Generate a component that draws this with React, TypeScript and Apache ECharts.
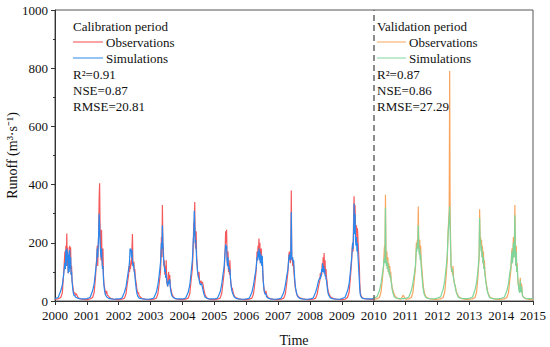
import React, { useEffect, useRef } from "react";
import * as echarts from "echarts";

// Sampling positions inside each year (fraction of the year)
const sampleFractions = [0.0, 0.1, 0.18, 0.23, 0.27, 0.31, 0.325, 0.34, 0.355, 0.37, 0.385, 0.4, 0.415, 0.43, 0.445, 0.46, 0.475, 0.49, 0.505, 0.52, 0.535, 0.55, 0.565, 0.58, 0.6, 0.62, 0.64, 0.67, 0.71, 0.77, 0.85, 0.93];

const calYears = [2000, 2001, 2002, 2003, 2004, 2005, 2006, 2007, 2008, 2009];
const valYears = [2010, 2011, 2012, 2013, 2014];

// Calibration period, observed runoff (m3/s), one row per year
const calObs = [
  [6, 7, 12, 28, 90, 170, 110, 190, 140, 232, 120, 185, 95, 150, 110, 190, 120, 185, 90, 120, 70, 60, 45, 35, 25, 30, 20, 25, 14, 8, 6, 5],
  [5, 7, 12, 30, 80, 150, 190, 120, 180, 230, 350, 405, 250, 200, 140, 245, 150, 120, 180, 90, 60, 50, 40, 30, 25, 35, 20, 18, 12, 8, 6, 5],
  [5, 6, 10, 25, 60, 90, 120, 100, 130, 110, 140, 125, 180, 230, 130, 120, 135, 100, 110, 80, 70, 60, 45, 35, 25, 30, 18, 15, 10, 7, 6, 5],
  [5, 6, 10, 25, 60, 100, 140, 220, 150, 330, 200, 180, 120, 140, 90, 120, 80, 140, 70, 60, 50, 80, 100, 60, 90, 50, 40, 25, 15, 8, 6, 5],
  [5, 6, 10, 25, 70, 110, 150, 200, 270, 250, 340, 200, 180, 240, 150, 130, 100, 90, 80, 100, 70, 60, 60, 70, 60, 65, 60, 40, 20, 10, 6, 5],
  [5, 6, 10, 25, 60, 100, 140, 180, 240, 200, 245, 150, 120, 170, 100, 130, 90, 140, 80, 60, 50, 40, 45, 35, 25, 20, 15, 12, 10, 7, 6, 5],
  [5, 6, 10, 25, 60, 100, 130, 170, 140, 190, 160, 215, 150, 200, 130, 170, 180, 120, 150, 100, 70, 50, 35, 30, 25, 35, 20, 15, 10, 7, 6, 5],
  [5, 6, 10, 25, 60, 100, 130, 160, 170, 150, 130, 170, 380, 140, 150, 120, 140, 110, 90, 70, 50, 40, 35, 25, 20, 18, 15, 12, 10, 7, 6, 5],
  [5, 6, 10, 25, 50, 70, 95, 80, 100, 90, 130, 100, 150, 120, 165, 100, 140, 90, 110, 80, 70, 50, 40, 30, 25, 20, 15, 12, 10, 7, 6, 5],
  [5, 6, 12, 30, 80, 140, 180, 200, 170, 280, 360, 250, 330, 260, 240, 260, 200, 250, 220, 180, 150, 120, 60, 30, 20, 15, 12, 10, 8, 7, 6, 5],
];

// Calibration period, simulated runoff
const calSim = [
  [8, 12, 35, 55, 90, 130, 110, 175, 120, 180, 140, 170, 95, 160, 100, 175, 110, 150, 90, 100, 70, 50, 35, 25, 18, 20, 14, 12, 10, 8, 7, 7],
  [8, 12, 35, 60, 100, 140, 180, 150, 190, 230, 300, 260, 200, 170, 150, 180, 140, 110, 120, 80, 55, 40, 30, 22, 18, 15, 12, 10, 8, 7, 6, 7],
  [7, 10, 30, 50, 80, 110, 120, 140, 180, 175, 180, 150, 175, 140, 120, 130, 110, 100, 90, 70, 55, 40, 30, 22, 16, 13, 10, 9, 8, 7, 6, 6],
  [7, 10, 30, 55, 90, 130, 170, 200, 180, 260, 200, 160, 130, 120, 100, 110, 80, 90, 70, 60, 50, 60, 70, 60, 75, 45, 30, 18, 12, 9, 7, 7],
  [7, 10, 30, 55, 95, 140, 170, 210, 230, 310, 260, 200, 210, 180, 140, 120, 100, 90, 80, 75, 65, 60, 55, 55, 60, 50, 40, 25, 14, 9, 7, 7],
  [7, 10, 30, 55, 90, 120, 150, 170, 195, 180, 190, 140, 120, 150, 110, 120, 100, 110, 80, 60, 45, 35, 30, 25, 20, 15, 12, 10, 8, 7, 6, 6],
  [7, 10, 30, 55, 85, 110, 130, 150, 140, 170, 150, 180, 140, 170, 130, 160, 150, 120, 155, 100, 70, 50, 35, 28, 22, 25, 15, 11, 9, 7, 6, 6],
  [7, 10, 30, 55, 85, 110, 130, 150, 160, 150, 140, 170, 305, 150, 140, 150, 130, 140, 110, 80, 60, 45, 35, 28, 20, 15, 12, 10, 8, 7, 6, 6],
  [7, 10, 30, 50, 70, 80, 75, 90, 85, 110, 100, 130, 100, 120, 95, 110, 85, 90, 75, 70, 55, 40, 30, 22, 18, 14, 11, 9, 8, 7, 6, 6],
  [8, 12, 35, 60, 100, 150, 170, 200, 180, 240, 335, 230, 300, 210, 190, 220, 170, 200, 160, 130, 100, 70, 40, 22, 16, 12, 10, 9, 8, 7, 7, 7],
];

// Validation period, observed runoff
const valObs = [
  [6, 7, 12, 30, 70, 120, 160, 190, 150, 365, 180, 140, 170, 110, 150, 100, 130, 90, 120, 80, 100, 70, 60, 45, 40, 30, 25, 18, 12, 8, 6, 20],
  [6, 7, 12, 28, 70, 110, 150, 200, 180, 210, 190, 325, 200, 170, 210, 150, 190, 140, 120, 100, 80, 60, 45, 35, 25, 20, 15, 12, 10, 7, 6, 5],
  [6, 7, 12, 30, 80, 140, 200, 250, 280, 310, 790, 300, 200, 120, 100, 110, 90, 120, 80, 70, 60, 55, 50, 40, 30, 25, 20, 15, 12, 8, 6, 5],
  [6, 7, 12, 30, 80, 150, 315, 200, 220, 180, 210, 150, 190, 130, 170, 110, 140, 100, 90, 70, 60, 50, 40, 30, 25, 20, 15, 12, 10, 7, 6, 5],
  [6, 7, 12, 28, 70, 110, 150, 180, 130, 170, 220, 150, 180, 330, 200, 120, 190, 100, 130, 80, 60, 50, 40, 30, 80, 35, 60, 20, 12, 8, 6, 5],
];

// Validation period, simulated runoff
const valSim = [
  [10, 14, 35, 60, 90, 120, 140, 150, 130, 320, 150, 120, 140, 110, 130, 100, 115, 90, 100, 80, 85, 65, 55, 40, 30, 22, 16, 12, 10, 9, 8, 8],
  [9, 13, 35, 60, 90, 120, 150, 180, 170, 200, 180, 260, 190, 160, 180, 140, 160, 120, 100, 80, 60, 45, 35, 25, 20, 16, 12, 10, 9, 8, 7, 8],
  [10, 14, 40, 70, 110, 160, 200, 240, 260, 290, 325, 250, 180, 120, 110, 100, 110, 90, 80, 70, 60, 55, 45, 35, 28, 22, 16, 12, 10, 9, 8, 8],
  [9, 13, 38, 65, 100, 160, 285, 200, 210, 170, 190, 150, 170, 130, 150, 110, 120, 90, 80, 65, 55, 45, 35, 28, 22, 16, 12, 10, 9, 8, 7, 8],
  [9, 13, 35, 60, 95, 120, 150, 170, 130, 160, 200, 150, 170, 295, 180, 120, 170, 100, 120, 80, 60, 45, 35, 28, 70, 30, 50, 18, 12, 9, 8, 8],
];

const calEnd = { year: 2010, obs: 6, sim: 9 };
const valEnd = { year: 2015, obs: 5, sim: 8 };

const FONT = '"Liberation Serif", "Times New Roman", serif';

function buildPoints(years: number[], rows: number[][], endYear: number, endValue: number) {
  const pts: [number, number][] = [];
  years.forEach((y, i) => {
    sampleFractions.forEach((f, j) => {
      pts.push([y + f, rows[i][j]]);
    });
  });
  pts.push([endYear, endValue]);
  return pts;
}

export default function App() {
  const ref = useRef<HTMLDivElement>(null);

  useEffect(() => {
    if (!ref.current) return;
    const chart = echarts.init(ref.current, undefined, { renderer: "svg" });

    const label = (text: string, x: number, y: number) => ({
      type: "text",
      x,
      y,
      silent: true,
      style: { text, x: 0, y: 0, fontSize: 13, fontFamily: FONT, fill: "#111", verticalAlign: "middle" },
    });
    const legendLine = (x1: number, x2: number, y: number, color: string) => ({
      type: "line",
      silent: true,
      shape: { x1, y1: y, x2, y2: y },
      style: { stroke: color, lineWidth: 1 },
    });

    const colors = { calObs: "#f5474a", calSim: "#2a87ee", valObs: "#f9a55e", valSim: "#7fd69c" };

    chart.setOption({
      animation: false,
      grid: { left: 55, right: 17, top: 10, bottom: 46, show: true, borderColor: "#555", borderWidth: 1, containLabel: false, outerBoundsMode: "none" },
      xAxis: {
        type: "value",
        min: 2000,
        max: 2015,
        interval: 1,
        name: "Time",
        nameLocation: "middle",
        nameGap: 32,
        nameMoveOverlap: false,
        nameTextStyle: { fontFamily: FONT, fontSize: 14, color: "#111" },
        axisLine: { lineStyle: { color: "#333", width: 1 } },
        axisTick: { show: true, length: 4, lineStyle: { color: "#333" } },
        axisLabel: { fontFamily: FONT, fontSize: 13, color: "#111", margin: 8, formatter: (v: number) => String(Math.round(v)) },
        splitLine: { show: false },
      },
      yAxis: {
        type: "value",
        min: 0,
        max: 1000,
        interval: 200,
        name: "Runoff (m³·s⁻¹)",
        nameLocation: "middle",
        nameGap: 36,
        nameMoveOverlap: false,
        nameTextStyle: { fontFamily: FONT, fontSize: 14, color: "#111" },
        axisLine: { show: true, lineStyle: { color: "#333", width: 1 } },
        axisTick: { show: true, length: 4, lineStyle: { color: "#333" } },
        minorTick: { show: true, splitNumber: 2, length: 2, lineStyle: { color: "#333" } },
        axisLabel: { fontFamily: FONT, fontSize: 13, color: "#111", margin: 7, formatter: (v: number) => String(v) },
        splitLine: { show: false },
      },
      series: [
        {
          name: "Observations (calibration)",
          type: "line",
          showSymbol: false,
          data: buildPoints(calYears, calObs, calEnd.year, calEnd.obs),
          lineStyle: { color: colors.calObs, width: 1.2, opacity: 0.9 },
          itemStyle: { color: colors.calObs },
          z: 2,
        },
        {
          name: "Simulations (calibration)",
          type: "line",
          showSymbol: false,
          data: buildPoints(calYears, calSim, calEnd.year, calEnd.sim),
          lineStyle: { color: colors.calSim, width: 1.2 },
          itemStyle: { color: colors.calSim },
          z: 3,
        },
        {
          name: "Observations (validation)",
          type: "line",
          showSymbol: false,
          data: buildPoints(valYears, valObs, valEnd.year, valEnd.obs),
          lineStyle: { color: colors.valObs, width: 1.2 },
          itemStyle: { color: colors.valObs },
          z: 2,
          markLine: {
            silent: true,
            symbol: "none",
            label: { show: false },
            lineStyle: { type: [6, 4], color: "#666", width: 1.5 },
            data: [{ xAxis: 2010 }],
          },
        },
        {
          name: "Simulations (validation)",
          type: "line",
          showSymbol: false,
          data: buildPoints(valYears, valSim, valEnd.year, valEnd.sim),
          lineStyle: { color: colors.valSim, width: 1.2 },
          itemStyle: { color: colors.valSim },
          z: 3,
        },
      ],
      graphic: [
        label("Calibration period", 73, 26),
        legendLine(73, 103, 42, colors.calObs),
        label("Observations", 106, 42),
        legendLine(73, 103, 58, colors.calSim),
        label("Simulations", 106, 58),
        label("R²=0.91", 73, 74),
        label("NSE=0.87", 73, 90),
        label("RMSE=20.81", 73, 106),
        label("Validation period", 377, 26),
        legendLine(377, 406, 42, colors.valObs),
        label("Observations", 409, 42),
        legendLine(377, 406, 58, colors.valSim),
        label("Simulations", 409, 58),
        label("R²=0.87", 377, 74),
        label("NSE=0.86", 377, 90),
        label("RMSE=27.29", 377, 106),
      ],
    });

    return () => chart.dispose();
  }, []);

  return <div ref={ref} style={{ position: "fixed", left: 0, top: 0, width: 550, height: 347, background: "#fff" }} />;
}
